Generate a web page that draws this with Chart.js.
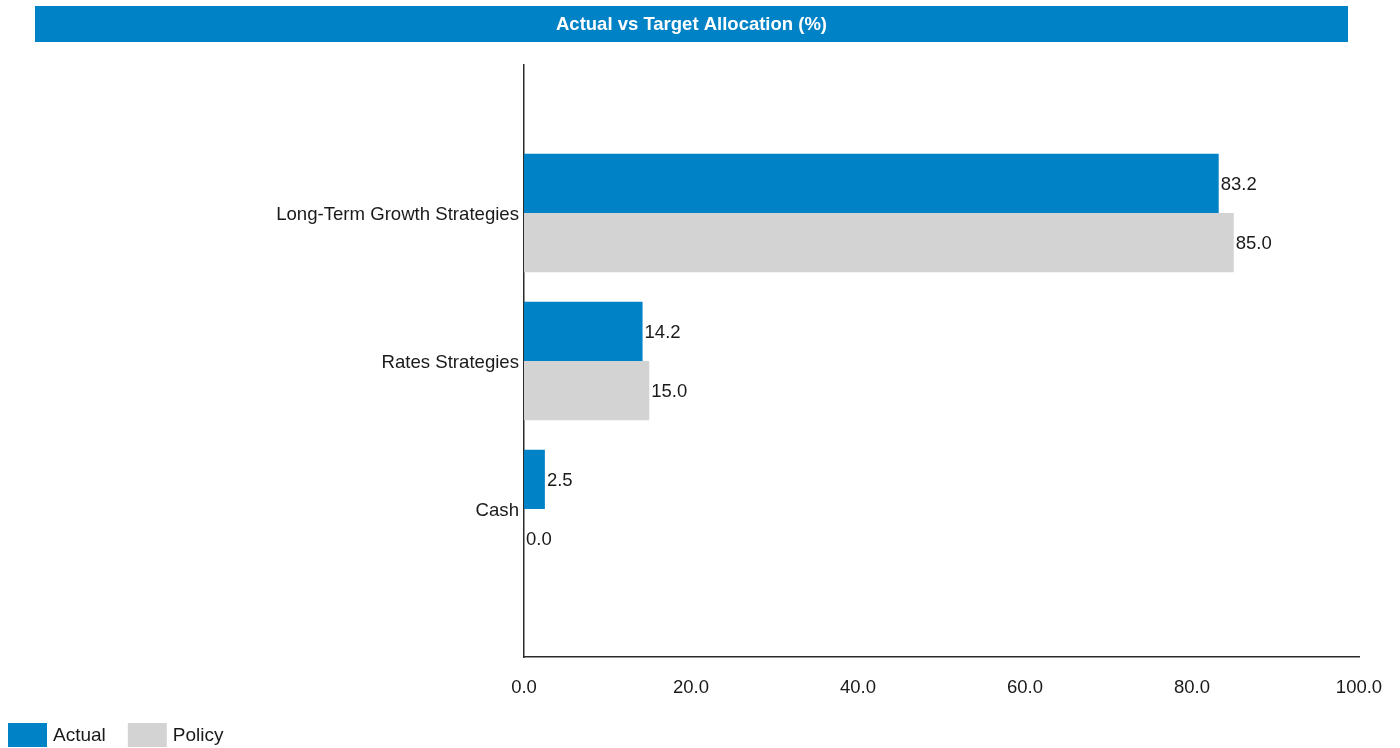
<!DOCTYPE html>
<html>
<head>
<meta charset="utf-8">
<title>Actual vs Target Allocation (%)</title>
<script src="https://cdn.jsdelivr.net/npm/chart.js@4.4.1/dist/chart.umd.min.js"></script>
<style>
  html, body { margin: 0; padding: 0; background: #ffffff; }
  #wrap { width: 1400px; height: 748px; position: relative; }
</style>
</head>
<body>
<div id="wrap"><canvas id="chart" width="1400" height="748"></canvas></div>
<script>
// Categories (blank entries pad the top and bottom of the axis)
const categories = ['', 'Long-Term Growth Strategies', 'Rates Strategies', 'Cash', ''];
const actualValues = [null, 83.2, 14.2, 2.5, null];
const policyValues = [null, 85.0, 15.0, 0.0, null];
const xTickValues = [0, 20, 40, 60, 80, 100];
const chartTitle = 'Actual vs Target Allocation (%)';
const seriesNames = ['Actual', 'Policy'];

const BLUE = '#0082C6';
const GREY = '#D3D3D3';
const TEXT = '#1a1a1a';
const FONT = "'Liberation Sans', Arial, sans-serif";

// Title banner across the top
const titleBanner = {
  id: 'titleBanner',
  beforeDraw(chart) {
    const ctx = chart.ctx;
    ctx.save();
    ctx.fillStyle = BLUE;
    ctx.fillRect(35, 6, 1313, 36);
    ctx.fillStyle = '#ffffff';
    ctx.font = 'bold 18.5px ' + FONT;
    ctx.textAlign = 'center';
    ctx.textBaseline = 'middle';
    ctx.fillText(chartTitle, 691.5, 25);
    ctx.restore();
  }
};

// Value labels just past the end of each bar
const valueLabels = {
  id: 'valueLabels',
  afterDatasetsDraw(chart) {
    const ctx = chart.ctx;
    ctx.save();
    ctx.font = '18.5px ' + FONT;
    ctx.fillStyle = TEXT;
    ctx.textAlign = 'left';
    ctx.textBaseline = 'middle';
    chart.data.datasets.forEach((ds, di) => {
      const meta = chart.getDatasetMeta(di);
      meta.data.forEach((bar, i) => {
        const v = ds.data[i];
        if (v === null || v === undefined) return;
        ctx.fillText(v.toFixed(1), bar.x + 2, bar.y + 1.5);
      });
    });
    ctx.restore();
  }
};

// Legend swatches in the bottom-left corner
const cornerLegend = {
  id: 'cornerLegend',
  afterDraw(chart) {
    const ctx = chart.ctx;
    ctx.save();
    ctx.font = '19px ' + FONT;
    ctx.textBaseline = 'middle';
    ctx.textAlign = 'left';
    let x = 8;
    chart.data.datasets.forEach((ds) => {
      ctx.fillStyle = ds.backgroundColor;
      ctx.fillRect(x, 723, 39, 24);
      ctx.fillStyle = TEXT;
      ctx.fillText(ds.label, x + 45, 736);
      x += 45 + ctx.measureText(ds.label).width + 22;
    });
    ctx.restore();
  }
};

new Chart(document.getElementById('chart'), {
  type: 'bar',
  data: {
    labels: categories,
    datasets: [
      { label: seriesNames[0], data: actualValues, backgroundColor: BLUE, borderWidth: 0 },
      { label: seriesNames[1], data: policyValues, backgroundColor: GREY, borderWidth: 0 }
    ]
  },
  options: {
    indexAxis: 'y',
    responsive: false,
    animation: false,
    devicePixelRatio: 1,
    layout: { padding: { top: 65, right: 41, bottom: 0, left: 0 } },
    datasets: { bar: { categoryPercentage: 0.8, barPercentage: 1.0 } },
    plugins: {
      legend: { display: false },
      title: { display: false },
      tooltip: { enabled: false }
    },
    scales: {
      x: {
        type: 'linear',
        min: 0,
        max: 100,
        afterBuildTicks(scale) { scale.ticks = xTickValues.map(v => ({ value: v })); },
        afterFit(scale) { scale.height = 91; scale.paddingRight = 0; },
        grid: { display: false, drawTicks: false },
        border: { display: true, color: '#2b2b2b', width: 1.5 },
        ticks: {
          padding: 20,
          color: TEXT,
          font: { family: FONT, size: 18.5 },
          maxRotation: 0,
          callback: v => Number(v).toFixed(1)
        }
      },
      y: {
        type: 'category',
        offset: false,
        afterFit(scale) { scale.width = 524; },
        grid: { display: false, drawTicks: false, offset: false },
        border: { display: true, color: '#2b2b2b', width: 1.5 },
        ticks: {
          padding: 5,
          labelOffset: 1.5,
          color: TEXT,
          font: { family: FONT, size: 18.6 },
          autoSkip: false
        }
      }
    }
  },
  plugins: [titleBanner, valueLabels, cornerLegend]
});
</script>
</body>
</html>
